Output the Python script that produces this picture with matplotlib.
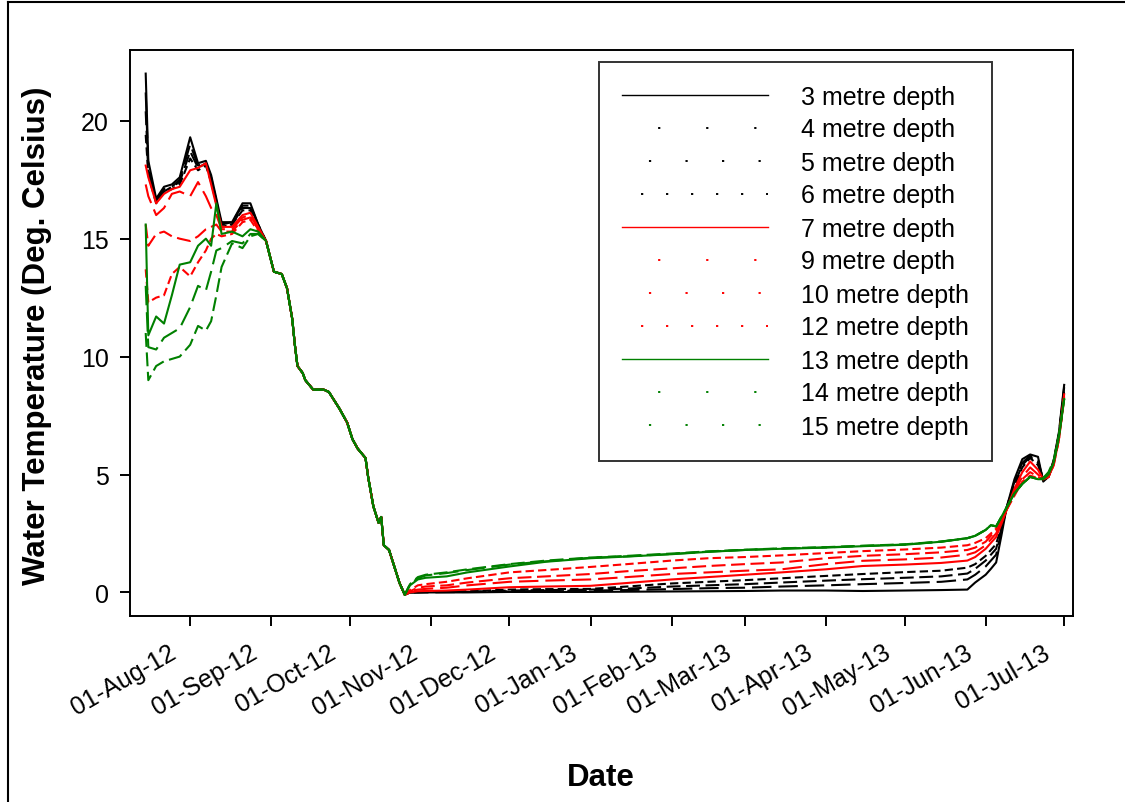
import matplotlib
matplotlib.use('Agg')
import matplotlib.pyplot as plt
import matplotlib.dates as mdates
import matplotlib.transforms as mtransforms
from matplotlib.lines import Line2D
import pandas as pd
from datetime import datetime

plt.rcParams['font.family'] = ['Liberation Sans', 'DejaVu Sans']
plt.rcParams['lines.scale_dashes'] = False

# Даты: лето (расслоение), осень (перемешивание), зима-весна
summer_dates = ['2012-07-15', '2012-07-16', '2012-07-19', '2012-07-22', '2012-07-25',
                '2012-07-28', '2012-08-01', '2012-08-04', '2012-08-07', '2012-08-09',
                '2012-08-11', '2012-08-13', '2012-08-17', '2012-08-21', '2012-08-24',
                '2012-08-27']
autumn_dates = ['2012-08-30', '2012-09-02', '2012-09-05', '2012-09-07', '2012-09-09',
                '2012-09-10', '2012-09-11', '2012-09-13', '2012-09-14', '2012-09-17',
                '2012-09-21', '2012-09-23', '2012-09-27', '2012-09-30', '2012-10-02',
                '2012-10-04', '2012-10-07', '2012-10-08', '2012-10-10', '2012-10-12',
                '2012-10-13', '2012-10-14', '2012-10-16', '2012-10-18', '2012-10-20',
                '2012-10-22']
winter_dates = ['2012-10-24', '2012-10-27', '2012-10-30', '2012-11-07', '2012-11-15',
                '2012-12-01', '2012-12-15', '2013-01-01', '2013-01-15', '2013-02-01',
                '2013-02-15', '2013-03-01', '2013-03-15', '2013-04-01', '2013-04-15',
                '2013-05-01', '2013-05-15', '2013-05-25', '2013-05-28', '2013-06-01',
                '2013-06-03', '2013-06-05', '2013-06-07', '2013-06-09', '2013-06-12',
                '2013-06-15', '2013-06-18', '2013-06-21', '2013-06-23', '2013-06-25',
                '2013-06-27', '2013-06-29', '2013-07-01']

# Осенью все глубины практически совпадают
autumn_temp = [14.9, 13.6, 13.5, 12.9, 11.6, 10.5, 9.6, 9.3, 9.0, 8.6, 8.6, 8.5, 7.8,
               7.2, 6.5, 6.1, 5.7, 4.9, 3.65, 2.95, 3.2, 2.0, 1.8, 1.1, 0.4, -0.1]

depths = [3, 4, 5, 6, 7, 9, 10, 12, 13, 14, 15]

summer_3 = [22.0, 18.3, 16.7, 17.2, 17.3, 17.6, 19.3, 18.2, 18.3, 17.7, 16.7, 15.7, 15.7, 16.5, 16.5, 15.6]
summer_4 = [21.2, 18.0, 16.6, 17.1, 17.2, 17.5, 19.0, 18.1, 18.2, 17.6, 16.6, 15.6, 15.7, 16.4, 16.4, 15.6]
summer_5 = [20.4, 17.8, 16.6, 17.0, 17.2, 17.4, 18.7, 18.0, 18.2, 17.5, 16.5, 15.6, 15.6, 16.3, 16.3, 15.5]
summer_6 = [19.4, 17.7, 16.5, 17.0, 17.1, 17.3, 18.4, 17.9, 18.1, 17.4, 16.5, 15.5, 15.6, 16.2, 16.2, 15.5]
summer_7 = [18.1, 17.6, 16.5, 16.9, 17.1, 17.2, 17.9, 18.0, 18.2, 17.3, 16.4, 15.5, 15.5, 16.0, 16.1, 15.5]
summer_9 = [17.3, 16.8, 16.0, 16.3, 16.9, 17.0, 16.8, 17.4, 16.8, 16.3, 16.0, 15.4, 15.4, 15.9, 16.0, 15.4]
summer_10 = [15.6, 14.7, 15.2, 15.3, 15.1, 15.0, 14.9, 15.1, 15.4, 15.5, 15.6, 15.3, 15.3, 15.8, 15.9, 15.4]
summer_12 = [13.7, 12.3, 12.5, 12.6, 13.5, 13.8, 13.4, 14.0, 14.5, 15.0, 15.2, 15.1, 15.2, 15.7, 15.8, 15.3]
summer_13 = [15.6, 10.9, 11.7, 11.4, 12.6, 13.9, 14.0, 14.7, 15.0, 14.7, 16.5, 15.2, 15.3, 15.1, 15.4, 15.3]
summer_14 = [13.0, 10.4, 10.3, 10.8, 11.0, 11.2, 12.1, 13.0, 12.8, 13.6, 14.5, 14.6, 14.9, 14.8, 15.2, 15.2]
summer_15 = [11.0, 9.0, 9.6, 9.8, 9.9, 10.0, 10.5, 11.3, 11.1, 11.5, 12.6, 13.8, 14.8, 14.6, 15.1, 15.2]

winter_3 = [0.0, 0.0, 0.0, 0.0, 0.0, 0.02, 0.02, 0.02, 0.03, 0.04, 0.05, 0.06, 0.08, 0.08, 0.06, 0.08, 0.1, 0.12,
            0.42, 0.75, 1.0, 1.27, 2.4, 3.6, 4.8, 5.65, 5.85, 5.75, 4.7, 4.9, 5.6, 6.8, 8.8]
winter_4 = [0.0, 0.0, 0.0, 0.01, 0.02, 0.05, 0.06, 0.08, 0.1, 0.14, 0.18, 0.2, 0.25, 0.3, 0.35, 0.4, 0.45, 0.55,
            0.75, 1.1, 1.35, 1.6, 2.6, 3.6, 4.7, 5.5, 5.8, 5.6, 4.75, 4.9, 5.6, 6.7, 8.7]
winter_5 = [0.0, 0.0, 0.02, 0.02, 0.03, 0.08, 0.1, 0.12, 0.16, 0.25, 0.3, 0.35, 0.42, 0.5, 0.56, 0.62, 0.68, 0.8,
            1.0, 1.35, 1.6, 1.85, 2.7, 3.6, 4.6, 5.4, 5.75, 5.5, 4.8, 4.9, 5.5, 6.7, 8.6]
winter_6 = [0.0, 0.02, 0.03, 0.04, 0.05, 0.12, 0.14, 0.15, 0.25, 0.38, 0.45, 0.52, 0.6, 0.7, 0.78, 0.86, 0.92, 1.05,
            1.2, 1.55, 1.8, 2.05, 2.8, 3.55, 4.5, 5.3, 5.7, 5.4, 4.8, 4.9, 5.5, 6.6, 8.5]
winter_7 = [0.0, 0.05, 0.06, 0.08, 0.12, 0.22, 0.25, 0.28, 0.4, 0.55, 0.65, 0.75, 0.85, 0.98, 1.12, 1.18, 1.25, 1.35,
            1.5, 1.85, 2.1, 2.35, 2.9, 3.5, 4.4, 5.1, 5.55, 5.2, 4.8, 4.9, 5.5, 6.6, 8.4]
winter_9 = [0.05, 0.12, 0.15, 0.2, 0.3, 0.45, 0.5, 0.55, 0.65, 0.78, 0.85, 0.92, 0.98, 1.2, 1.34, 1.4, 1.48, 1.6,
            1.7, 2.0, 2.25, 2.5, 3.0, 3.5, 4.3, 4.9, 5.3, 5.0, 4.8, 4.9, 5.4, 6.5, 8.3]
winter_10 = [0.05, 0.2, 0.25, 0.3, 0.42, 0.6, 0.68, 0.78, 0.9, 1.02, 1.12, 1.2, 1.27, 1.45, 1.55, 1.62, 1.7, 1.8,
             1.9, 2.15, 2.4, 2.6, 3.05, 3.5, 4.2, 4.8, 5.1, 4.9, 4.8, 4.9, 5.4, 6.5, 8.3]
winter_12 = [0.1, 0.3, 0.35, 0.45, 0.6, 0.85, 0.95, 1.08, 1.2, 1.35, 1.45, 1.5, 1.57, 1.67, 1.75, 1.82, 1.9, 2.0,
             2.1, 2.3, 2.5, 2.7, 3.1, 3.5, 4.1, 4.7, 4.95, 4.85, 4.8, 4.95, 5.4, 6.5, 8.2]
winter_13 = [0.3, 0.55, 0.62, 0.68, 0.85, 1.1, 1.3, 1.45, 1.52, 1.62, 1.72, 1.8, 1.85, 1.9, 1.96, 2.02, 2.15, 2.3,
             2.4, 2.65, 2.85, 2.8, 3.2, 3.6, 4.2, 4.6, 4.9, 4.8, 4.8, 5.0, 5.5, 6.6, 8.2]
winter_14 = [0.35, 0.6, 0.72, 0.82, 0.95, 1.18, 1.32, 1.47, 1.53, 1.63, 1.73, 1.8, 1.86, 1.91, 1.97, 2.03, 2.15, 2.3,
             2.4, 2.65, 2.85, 2.8, 3.2, 3.6, 4.2, 4.6, 4.9, 4.8, 4.85, 5.05, 5.5, 6.6, 8.2]
winter_15 = [0.35, 0.65, 0.75, 0.85, 0.98, 1.2, 1.35, 1.48, 1.55, 1.65, 1.74, 1.81, 1.87, 1.92, 1.98, 2.04, 2.16, 2.3,
             2.4, 2.65, 2.85, 2.8, 3.2, 3.6, 4.2, 4.6, 4.9, 4.8, 4.85, 5.1, 5.6, 6.7, 8.2]

summers = [summer_3, summer_4, summer_5, summer_6, summer_7, summer_9, summer_10,
           summer_12, summer_13, summer_14, summer_15]
winters = [winter_3, winter_4, winter_5, winter_6, winter_7, winter_9, winter_10,
           winter_12, winter_13, winter_14, winter_15]

colors = ['black'] * 4 + ['red'] * 4 + ['green'] * 3
# штрихи на графике
plot_styles = ['-', (0, (14, 5)), (0, (10, 4)), (0, (6, 3)),
               '-', (0, (14, 5)), (0, (10, 4)), (0, (6, 3)),
               '-', (0, (14, 5)), (0, (10, 4))]
# в легенде SigmaPlot рисует их точками
legend_styles = ['-', (8.6, (1.6, 33.0)), (6.9, (1.6, 24.7)), (4.3, (1.6, 16.4)),
                 '-', (8.6, (1.6, 33.0)), (6.9, (1.6, 24.7)), (4.3, (1.6, 16.4)),
                 '-', (8.6, (1.6, 33.0)), (6.9, (1.6, 24.7))]

all_dates = pd.to_datetime(summer_dates + autumn_dates + winter_dates)

fig = plt.figure(figsize=(11.25, 8.03), dpi=100)
ax = fig.add_axes([130 / 1125, 1 - 617 / 803, (1073 - 130) / 1125, (617 - 51) / 803])

for i, d in enumerate(depths):
    vals = summers[i] + autumn_temp + winters[i]
    ax.plot(all_dates, vals, color=colors[i], linestyle=plot_styles[i], linewidth=1.5)

ax.set_xlim(datetime(2012, 7, 9), datetime(2013, 7, 4, 9))
ax.set_ylim(-1.0, 23.0)
ax.set_yticks([0, 5, 10, 15, 20])
ax.set_xticks(pd.date_range('2012-08-01', '2013-07-01', freq='MS'))
ax.xaxis.set_major_formatter(mdates.DateFormatter('%d-%b-%y'))

ax.tick_params(axis='both', direction='out', length=7.2, width=1.4, labelsize=18, pad=8)
ax.tick_params(axis='x', pad=10)
shift = mtransforms.ScaledTranslation(-7 / 72, 0, fig.dpi_scale_trans)
for lab in ax.get_xticklabels():
    lab.set_rotation(30)
    lab.set_ha('right')
    lab.set_va('top')
    lab.set_transform(lab.get_transform() + shift)
for sp in ax.spines.values():
    sp.set_linewidth(1.4)

ax.set_xlabel('Date', fontsize=22.5, fontweight='bold')
ax.set_ylabel('Water Temperature (Deg. Celsius)', fontsize=22.5, fontweight='bold')
ax.xaxis.set_label_coords(601 / 1125, 1 - 763 / 803, transform=fig.transFigure)
ax.yaxis.set_label_coords(52 / 1125, 1 - 336 / 803, transform=fig.transFigure)

handles = [Line2D([], [], color=colors[i], linestyle=legend_styles[i],
                  linewidth=1.0 if legend_styles[i] == '-' else 1.4,
                  dash_capstyle='butt') for i in range(len(depths))]
labels = [f'{d} metre depth' for d in depths]
leg = ax.legend(handles, labels, loc='upper left',
                bbox_to_anchor=(599 / 1125, 1 - 63 / 803), bbox_transform=fig.transFigure,
                fontsize=18, frameon=True, fancybox=False, borderaxespad=0,
                borderpad=0.9, labelspacing=0.36, handlelength=5.84, handletextpad=1.35)
leg.get_frame().set_edgecolor('black')
leg.get_frame().set_linewidth(1.4)

# рамка вокруг рисунка (видны только левая и верхняя стороны)
fig.add_artist(Line2D([7.5 / 1125, 7.5 / 1125], [0, 1 - 3 / 803], transform=fig.transFigure,
                      color='black', linewidth=1.5))
fig.add_artist(Line2D([7.5 / 1125, 1], [1 - 3 / 803, 1 - 3 / 803], transform=fig.transFigure,
                      color='black', linewidth=1.5))

fig.savefig('out.png', dpi=100)
